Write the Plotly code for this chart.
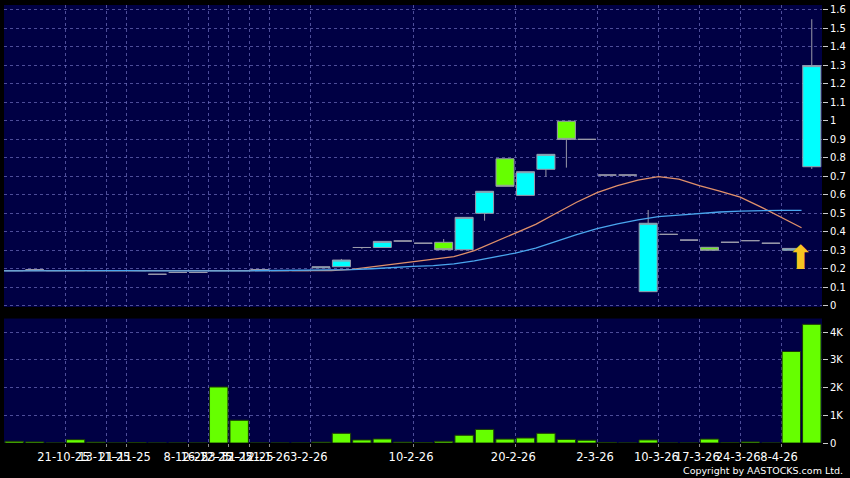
import plotly.graph_objects as go

# ---------------- data ----------------
opens  = [0.19, 0.195, 0.19, 0.19, 0.19, 0.19, 0.19, 0.17, 0.18, 0.18,
          0.19, 0.19, 0.195, 0.19, 0.19, 0.205, 0.211, 0.315, 0.315, 0.35,
          0.338, 0.343, 0.303, 0.50, 0.795, 0.597, 0.738, 0.998, 0.90, 0.707,
          0.707, 0.076, 0.386, 0.355, 0.316, 0.343, 0.352, 0.338, 0.300, 0.752]
highs  = [0.19, 0.195, 0.19, 0.19, 0.19, 0.19, 0.19, 0.17, 0.18, 0.18,
          0.19, 0.19, 0.195, 0.19, 0.19, 0.21, 0.253, 0.315, 0.348, 0.35,
          0.338, 0.361, 0.478, 0.619, 0.795, 0.725, 0.819, 0.998, 0.90, 0.707,
          0.707, 0.518, 0.386, 0.355, 0.316, 0.343, 0.352, 0.338, 0.310, 1.55]
lows   = [0.19, 0.195, 0.19, 0.19, 0.19, 0.19, 0.19, 0.17, 0.18, 0.18,
          0.19, 0.19, 0.195, 0.19, 0.19, 0.205, 0.211, 0.308, 0.315, 0.35,
          0.338, 0.303, 0.303, 0.46, 0.646, 0.597, 0.698, 0.747, 0.90, 0.707,
          0.707, 0.076, 0.386, 0.355, 0.300, 0.343, 0.352, 0.338, 0.300, 0.74]
closes = [0.19, 0.195, 0.19, 0.19, 0.19, 0.19, 0.19, 0.17, 0.18, 0.18,
          0.19, 0.19, 0.195, 0.19, 0.19, 0.21, 0.247, 0.315, 0.348, 0.35,
          0.338, 0.303, 0.478, 0.619, 0.646, 0.725, 0.819, 0.90, 0.90, 0.707,
          0.707, 0.446, 0.386, 0.355, 0.300, 0.343, 0.352, 0.338, 0.310, 1.299]

volumes = [60, 40, 0, 120, 30, 0, 15, 0, 0, 0,
           2020, 820, 0, 0, 0, 30, 350, 110, 145, 30,
           10, 60, 280, 490, 140, 180, 350, 130, 100, 20,
           0, 110, 0, 0, 140, 10, 40, 0, 3300, 4280]

ma_fast = [0.19, 0.19, 0.19, 0.19, 0.19, 0.19, 0.19, 0.189, 0.188, 0.187,
           0.187, 0.188, 0.189, 0.19, 0.19, 0.19, 0.19, 0.197, 0.21, 0.225,
           0.238, 0.25, 0.265, 0.298, 0.345, 0.395, 0.44, 0.50, 0.56, 0.612,
           0.65, 0.68, 0.698, 0.685, 0.65, 0.62, 0.587, 0.535, 0.48, 0.422]
ma_slow = [0.188, 0.189, 0.19, 0.19, 0.19, 0.19, 0.19, 0.189, 0.188, 0.187,
           0.187, 0.188, 0.189, 0.19, 0.19, 0.19, 0.192, 0.195, 0.20, 0.208,
           0.213, 0.217, 0.226, 0.242, 0.262, 0.285, 0.312, 0.35, 0.385, 0.417,
           0.443, 0.464, 0.482, 0.49, 0.50, 0.507, 0.512, 0.515, 0.516, 0.516]

# date labels: candle index -> label
label_idx  = [3, 5, 6, 9, 10, 11, 12, 13, 15, 20, 25, 29, 32, 34, 36, 38]
label_text = ["21-10-25", "13-11-25", "21-11-25", "8-12-25", "16-12-25",
              "23-12-25", "31-12-25", "21-1-26", "3-2-26", "10-2-26",
              "20-2-26", "2-3-26", "10-3-26", "17-3-26", "24-3-26", "8-4-26"]

price_ticks = [round(0.1 * k, 1) for k in range(17)]
price_tick_text = ["0" if v == 0 else ("%g" % v) for v in price_ticks]
vol_ticks = [0, 1000, 2000, 3000, 4000]
vol_tick_text = ["0", "1K", "2K", "3K", "4K"]

arrow_index = 38          # candle that carries the last-price arrow
arrow_level = 0.245

# ---------------- figure ----------------
n = len(closes)
xs = list(range(n))
ma_x = [i - 0.5 for i in xs]          # MA / grid / labels sit half a slot left
grid_x = [i - 0.5 for i in label_idx]

NAVY = "#000044"
GRID = "rgba(110,110,190,0.7)"
GRAY = "#9a9aaa"
CYAN = "#00ffff"
LIME = "#66ff00"
FONT = "DejaVu Sans"

fig = go.Figure()

fig.add_trace(go.Candlestick(
    x=xs, open=opens, high=highs, low=lows, close=closes,
    increasing=dict(fillcolor=CYAN, line=dict(color=GRAY, width=1)),
    decreasing=dict(fillcolor=LIME, line=dict(color=GRAY, width=1)),
    whiskerwidth=0, xaxis="x", yaxis="y", showlegend=False,
))

fig.add_trace(go.Scatter(x=ma_x, y=ma_fast, mode="lines",
                         line=dict(color="#e0906a", width=1.3),
                         xaxis="x", yaxis="y", showlegend=False))
fig.add_trace(go.Scatter(x=ma_x, y=ma_slow, mode="lines",
                         line=dict(color="#4aa6ee", width=1.3),
                         xaxis="x", yaxis="y", showlegend=False))

fig.add_trace(go.Bar(x=xs, y=volumes,
                     marker=dict(color=LIME, line=dict(color="#1b3a05", width=1)),
                     xaxis="x2", yaxis="y2", showlegend=False))

fig.add_trace(go.Scatter(x=[arrow_index + 0.45], y=[arrow_level],
                         mode="text", text=["⬆"],
                         textfont=dict(color="#f7c520", size=33, family=FONT),
                         textposition="middle center",
                         xaxis="x", yaxis="y", showlegend=False))

common_x = dict(range=[-0.5, n - 0.5], tickvals=grid_x, showgrid=True,
                gridcolor=GRID, griddash="3px,3px", gridwidth=1,
                zeroline=False, showline=False)

fig.update_layout(
    width=850, height=478,
    paper_bgcolor="#000000", plot_bgcolor=NAVY,
    margin=dict(l=4, r=28, t=5, b=35),
    boxgap=0.12, boxgroupgap=0, bargap=0.1,
    font=dict(family=FONT, size=10, color="#ffffff"),
    xaxis=dict(domain=[0, 1], anchor="y", showticklabels=False, ticks="",
               rangeslider=dict(visible=False), **common_x),
    xaxis2=dict(domain=[0, 1], anchor="y2", matches="x", ticktext=label_text,
                showticklabels=True, ticks="outside", ticklen=3, tickangle=0,
                automargin=False, tickcolor="#888888", ticklabelshift=-2,
                tickfont=dict(family=FONT, size=11.5, color="#ffffff"), **common_x),
    yaxis=dict(domain=[0.3105, 1], anchor="x", side="right", automargin=False,
               range=[-0.007, 1.627], tickvals=price_ticks, ticktext=price_tick_text,
               ticks="outside", ticklen=5, tickcolor="#cccccc",
               showgrid=True, gridcolor=GRID, griddash="3px,3px",
               zeroline=False, showline=False,
               tickfont=dict(family=FONT, size=10, color="#ffffff")),
    yaxis2=dict(domain=[0, 0.2842], anchor="x2", side="right", automargin=False,
                range=[0, 4490], tickvals=vol_ticks, ticktext=vol_tick_text,
                ticks="outside", ticklen=5, tickcolor="#cccccc",
                showgrid=True, gridcolor=GRID, griddash="3px,3px",
                zeroline=False, showline=False,
                tickfont=dict(family=FONT, size=10, color="#ffffff")),
    annotations=[dict(text="Copyright by AASTOCKS.com Ltd.", xref="paper", yref="paper",
                      x=1.028, y=-0.062, xanchor="right", yanchor="middle",
                      showarrow=False, font=dict(family=FONT, size=9.5, color="#ffffff"))],
)

fig.write_html("out.html", config={"displayModeBar": False},
               post_script="document.body.style.margin='0';document.body.style.overflow='hidden';")
